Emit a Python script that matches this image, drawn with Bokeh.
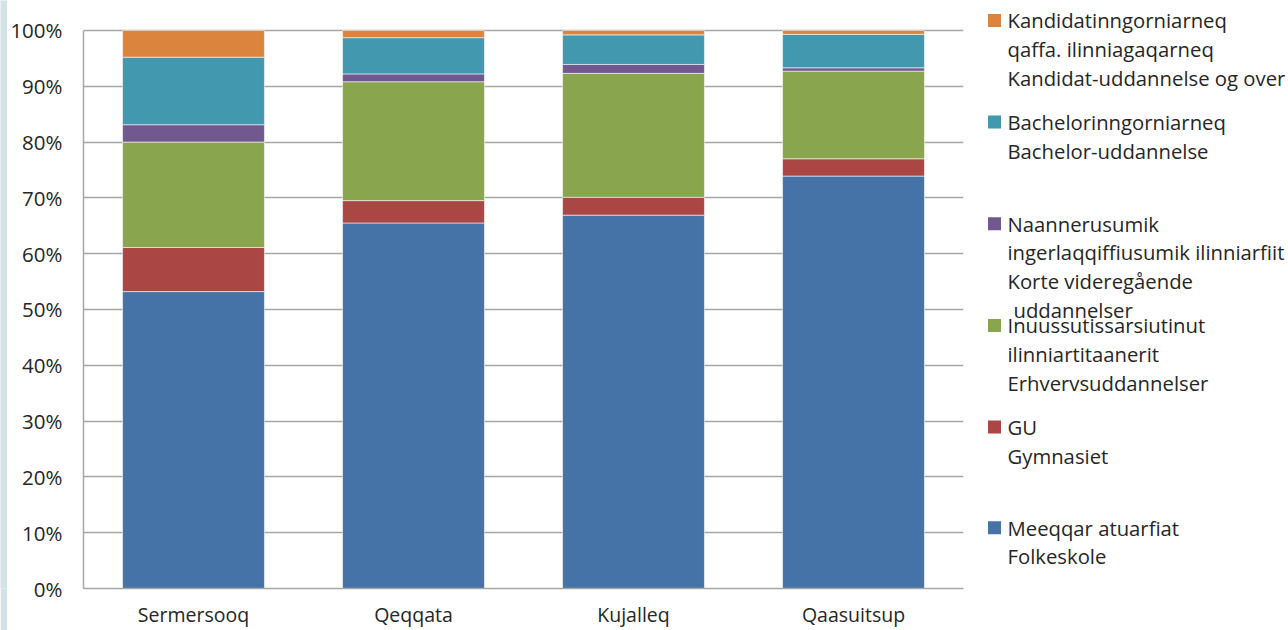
from bokeh.plotting import figure
from bokeh.layouts import row
from bokeh.models import FactorRange, Range1d, FixedTicker, PrintfTickFormatter
from bokeh.core.properties import value
from bokeh.embed import file_html
from bokeh.resources import INLINE

# ---- data ----
categories = ["Sermersooq", "Qeqqata", "Kujalleq", "Qaasuitsup"]
series_keys = ["folkeskole", "gymnasiet", "erhverv", "korte", "bachelor", "kandidat"]
folkeskole = [53.2, 65.5, 66.9, 73.9]
gymnasiet = [7.9, 4.0, 3.2, 3.1]
erhverv = [18.9, 21.3, 22.2, 15.7]
korte = [3.1, 1.4, 1.6, 0.6]
bachelor = [12.1, 6.5, 5.3, 6.0]
kandidat = [4.8, 1.3, 0.8, 0.7]
colors = ["#4572A7", "#AA4643", "#89A54E", "#71588F", "#4198AF", "#DB843D"]
legend_labels = [
    ["Meeqqar atuarfiat", "Folkeskole"],
    ["GU", "Gymnasiet"],
    ["Inuussutissarsiutinut", "ilinniartitaanerit", "Erhvervsuddannelser"],
    ["Naannerusumik", "ingerlaqqiffiusumik ilinniarfiit", "Korte videregående", " uddannelser"],
    ["Bachelorinngorniarneq", "Bachelor-uddannelse"],
    ["Kandidatinngorniarneq", "qaffa. ilinniagaqarneq", "Kandidat-uddannelse og over"],
]
y_ticks = [0, 10, 20, 30, 40, 50, 60, 70, 80, 90, 100]

FONT = "Open Sans"
TXT = "#262626"
GRID = "#A6A6A6"
STRIP = "#D2E2E6"

source = dict(cat=categories, folkeskole=folkeskole, gymnasiet=gymnasiet, erhverv=erhverv,
              korte=korte, bachelor=bachelor, kandidat=kandidat)

H = 630
BB = 40            # bottom border (x labels)
TOP_GAP = 30       # white space above the 100% line
PLOT_H = H - BB - TOP_GAP
y_top = 100 * (PLOT_H + TOP_GAP) / PLOT_H   # range top so that 100% sits TOP_GAP px below the frame top
STRIP_W = 7

# ---- decorative left strip ----
strip = figure(width=STRIP_W, height=H, x_range=Range1d(0, 1), y_range=Range1d(0, 1),
               output_backend="svg", toolbar_location=None,
               x_axis_location=None, y_axis_location=None,
               min_border=0, min_border_left=0, min_border_right=0,
               min_border_top=0, min_border_bottom=BB)
strip.outline_line_color = None
strip.xgrid.grid_line_color = None
strip.ygrid.grid_line_color = None
strip.background_fill_color = STRIP
strip.border_fill_color = STRIP

# ---- main chart ----
p = figure(x_range=FactorRange(*categories), y_range=Range1d(0, y_top),
           width=968 - STRIP_W, height=H, output_backend="svg", toolbar_location=None,
           min_border_left=83 - STRIP_W, min_border_right=5, min_border_top=0, min_border_bottom=BB)
p.vbar_stack(series_keys, x="cat", width=0.645, source=source, fill_color=colors,
             line_color="white", line_width=0.8, line_alpha=0.7)

p.outline_line_color = None
p.xgrid.grid_line_color = None
p.ygrid.grid_line_color = GRID
p.ygrid.grid_line_width = 1.5
p.yaxis.ticker = FixedTicker(ticks=y_ticks)
p.yaxis.formatter = PrintfTickFormatter(format="%d%%")
p.yaxis.bounds = (0, 100)
for ax in (p.xaxis[0], p.yaxis[0]):
    ax.axis_line_color = GRID
    ax.axis_line_width = 1.5
    ax.major_tick_line_color = None
    ax.minor_tick_line_color = None
    ax.major_tick_out = 0
    ax.major_tick_in = 0
    ax.major_label_text_font = FONT
    ax.major_label_text_color = TXT
p.yaxis.major_label_text_font_size = "20.5px"
p.yaxis.major_label_standoff = 21
p.xaxis.major_label_text_font_size = "19.5px"
p.xaxis.major_label_standoff = 12

# ---- legend panel (pixel coordinates, y downwards) ----
leg = figure(width=320, height=H, x_range=Range1d(0, 320), y_range=Range1d(H - BB, 0),
             output_backend="svg", toolbar_location=None,
             x_axis_location=None, y_axis_location=None,
             min_border=0, min_border_left=0, min_border_right=0,
             min_border_top=0, min_border_bottom=BB)
leg.outline_line_color = None
leg.xgrid.grid_line_color = None
leg.ygrid.grid_line_color = None

entry_top = [529, 428, 326, 224, 122, 20]
line_gap = 28.8
sq_x, sq_y, sq_c = [], [], []
tx, ty, tt = [], [], []
for i, lines in enumerate(legend_labels):
    sq_x.append(26)
    sq_y.append(entry_top[i])
    sq_c.append(colors[i])
    for j, ln in enumerate(lines):
        off = 6 if ln.startswith(" ") else 0
        tx.append(39 + off)
        ty.append(entry_top[i] + j * line_gap)
        tt.append(ln.strip())
leg.scatter(x=sq_x, y=sq_y, marker="square", size=13, fill_color=sq_c, line_color=None)
leg.text(x=tx, y=ty, text=tt, text_font=value(FONT), text_font_size="20.3px",
         text_color=TXT, text_baseline="middle", text_align="left")

layout = row(strip, p, leg)
open("out.html", "w").write(file_html(layout, INLINE))
